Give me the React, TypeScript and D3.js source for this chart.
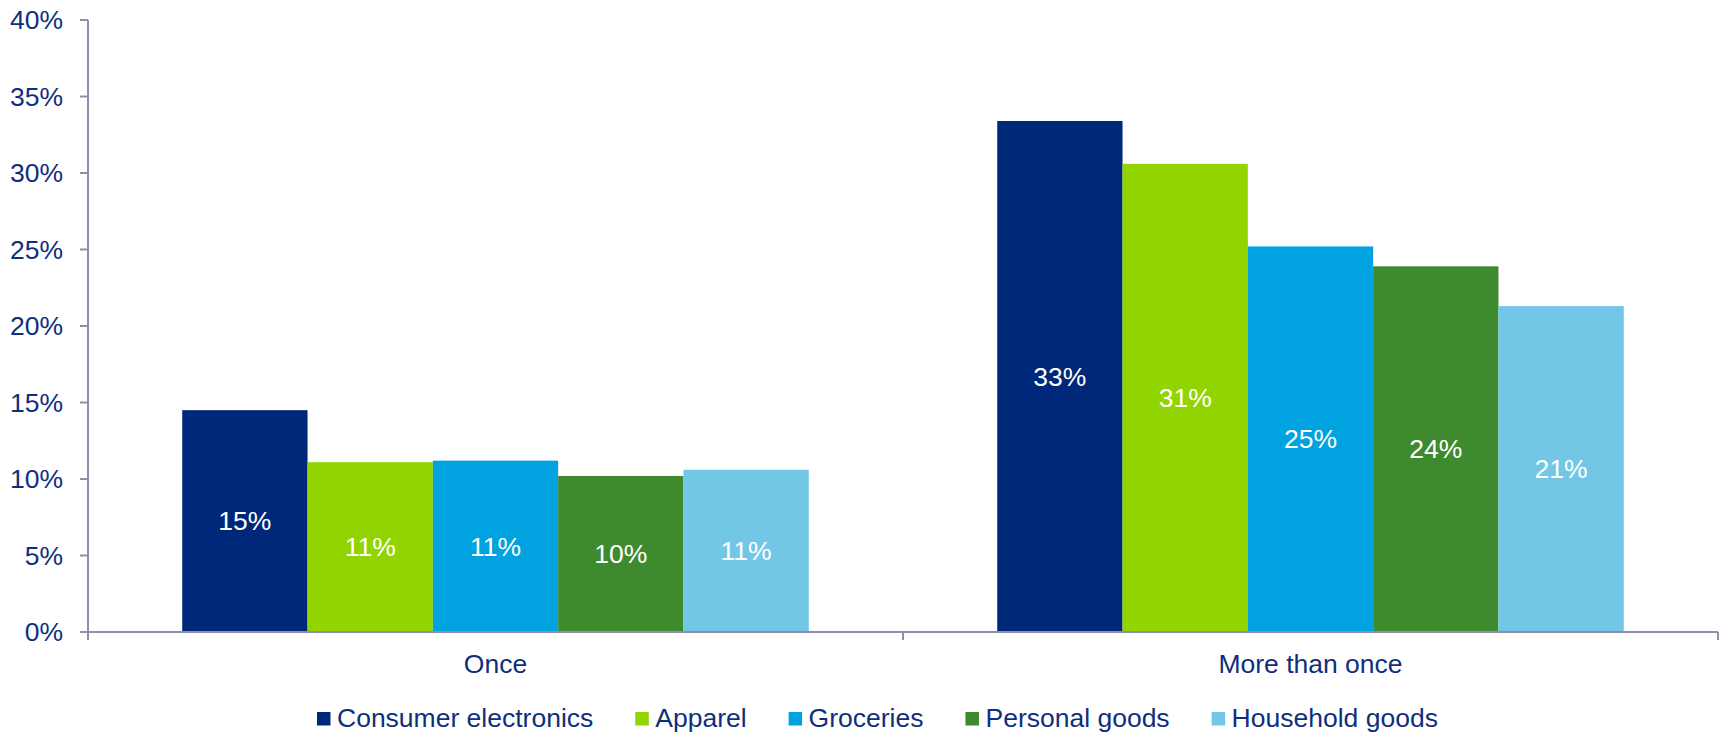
import React from "react";
import * as d3 from "d3";

const categories = ["Once", "More than once"];
const seriesNames = ["Consumer electronics", "Apparel", "Groceries", "Personal goods", "Household goods"];
const seriesColors = ["#00287A", "#92D400", "#00A3E0", "#3D8A2F", "#72C7E7"];
const onceValues = [14.5, 11.1, 11.2, 10.2, 10.6];
const moreThanOnceValues = [33.4, 30.6, 25.2, 23.9, 21.3];
const onceLabels = ["15%", "11%", "11%", "10%", "11%"];
const moreThanOnceLabels = ["33%", "31%", "25%", "24%", "21%"];
const yTicks = [0, 5, 10, 15, 20, 25, 30, 35, 40];

const W = 1719;
const H = 734;
const FONT = "'Liberation Sans', Arial, Helvetica, sans-serif";
const TEXT = "#0F2F7D";
const AXIS = "#8E8FAB";
const FS = 26.5;

function measure(text: string, size: number): number {
  if (typeof document === "undefined") return text.length * size * 0.5;
  const c = document.createElement("canvas");
  const ctx = c.getContext("2d");
  if (!ctx) return text.length * size * 0.5;
  ctx.font = `${size}px 'Liberation Sans', Arial, sans-serif`;
  return ctx.measureText(text).width;
}

export default function App() {
  const left = 88;
  const right = 1718;
  const top = 20;
  const bottom = 632;

  const y = d3.scaleLinear().domain([0, 40]).range([bottom, top]);
  const x0 = d3.scaleBand<string>().domain(categories).range([left, right]).padding(0);
  const x1 = d3
    .scaleBand<string>()
    .domain(seriesNames)
    .range([0, x0.bandwidth()])
    .paddingInner(0)
    .paddingOuter(0.752);

  const data = [
    { cat: categories[0], values: onceValues, labels: onceLabels },
    { cat: categories[1], values: moreThanOnceValues, labels: moreThanOnceLabels },
  ];

  // legend layout
  const legendStart = 317;
  const sq = 13.5;
  const sqGap = 6.5;
  const itemGap = 42;
  let lx = legendStart;
  const legendItems = seriesNames.map((name, i) => {
    const w = measure(name, FS);
    const item = { name, color: seriesColors[i], x: lx, w };
    lx += sq + sqGap + w + itemGap;
    return item;
  });

  return (
    <svg
      width={W}
      height={H}
      style={{ position: "absolute", left: 0, top: 0, background: "#fff" }}
      fontFamily={FONT}
    >
      {/* bars */}
      {data.map((g) => (
        <g key={g.cat} transform={`translate(${x0(g.cat)},0)`}>
          {g.values.map((v, i) => (
            <rect
              key={seriesNames[i]}
              x={x1(seriesNames[i])}
              y={y(v)}
              width={x1.bandwidth()}
              height={y(0) - y(v)}
              fill={seriesColors[i]}
            />
          ))}
          {g.values.map((v, i) => (
            <text
              key={"l" + i}
              x={(x1(seriesNames[i]) as number) + x1.bandwidth() / 2}
              y={(y(v) + y(0)) / 2}
              dy="0.35em"
              textAnchor="middle"
              fill="#fff"
              fontSize={FS}
            >
              {g.labels[i]}
            </text>
          ))}
        </g>
      ))}

      {/* y axis */}
      <line x1={left} x2={left} y1={top} y2={bottom + 8} stroke={AXIS} strokeWidth={2} />
      {yTicks.map((t) => (
        <g key={t}>
          <line x1={left - 8} x2={left} y1={y(t)} y2={y(t)} stroke={AXIS} strokeWidth={2} />
          <text x={63} y={y(t)} dy="0.35em" textAnchor="end" fill={TEXT} fontSize={FS}>
            {t + "%"}
          </text>
        </g>
      ))}

      {/* x axis */}
      <line x1={left} x2={right} y1={bottom} y2={bottom} stroke={AXIS} strokeWidth={2} />
      {categories.map((c) => (
        <line
          key={"t" + c}
          x1={(x0(c) as number) + x0.bandwidth()}
          x2={(x0(c) as number) + x0.bandwidth()}
          y1={bottom}
          y2={bottom + 8}
          stroke={AXIS}
          strokeWidth={2}
        />
      ))}
      {categories.map((c) => (
        <text
          key={"c" + c}
          x={(x0(c) as number) + x0.bandwidth() / 2}
          y={673}
          textAnchor="middle"
          fill={TEXT}
          fontSize={FS}
        >
          {c}
        </text>
      ))}

      {/* legend */}
      {legendItems.map((it) => (
        <g key={it.name}>
          <rect x={it.x} y={712} width={sq} height={sq} fill={it.color} />
          <text x={it.x + sq + sqGap} y={727} fill={TEXT} fontSize={FS}>
            {it.name}
          </text>
        </g>
      ))}
    </svg>
  );
}
